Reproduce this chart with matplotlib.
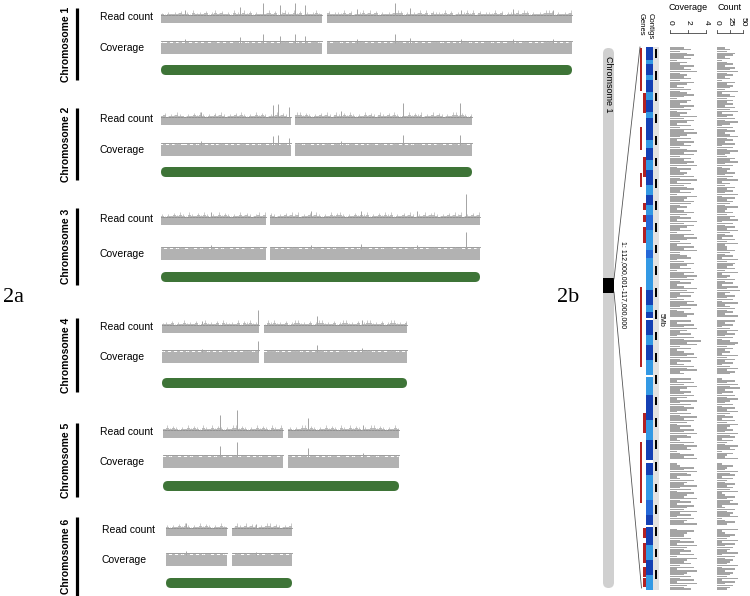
import numpy as np
import matplotlib.pyplot as plt
from matplotlib.patches import FancyBboxPatch, Rectangle

plt.rcParams['font.family'] = ['Liberation Sans', 'DejaVu Sans']

# ---------------- panel 2a data ----------------
chrom_names = ['Chromosome 1', 'Chromosome 2', 'Chromosome 3',
               'Chromosome 4', 'Chromosome 5', 'Chromosome 6']
chrom_len_mb = [205.5, 155.5, 159.5, 122.5, 118.0, 63.0]
centromere_mb = [(80.5, 83.0), (65.0, 67.0), (52.5, 54.5),
                 (48.5, 51.0), (60.0, 62.5), (30.5, 33.0)]

# binned read-count noise above the mean level (one digit per bin)
texture_chr = [
    "3152436241735261473625184273615243726158427361524837162543"
    "7261548372615243876152437281654372615248371625437261543827"
    "615243786152437",
    "2615374215263741526384152637415283641527364152873641526374"
    "185263741528364175263841527364815273641528736415",
    "4152637418526374152836415273641582736415263748152637415283"
    "674152637481526374815263741528367415263748152637",
    "3526142735261483526174352816473526184735261478352614873526"
    "147835261487352614783526",
    "2736415273641852736415287364152736418527364152873641527364"
    "185273641528736415273",
    "415263741528364152736418527364152873641527",
]

# prominent peaks: (position Mb, read count relative to mean)
spikes_chr = [
    [(12, 1.6), (39.5, 2.0), (51, 2.5), (59.5, 2.2), (67, 2.5), (72, 2.2),
     (98, 1.7), (117, 2.5), (124.5, 1.9), (150, 1.6), (176, 1.7), (196, 1.6)],
    [(20, 1.6), (56, 2.5), (58.5, 2.6), (64, 2.2), (90, 1.7), (121, 2.7), (149.5, 2.7)],
    [(25, 1.6), (75, 1.7), (100, 1.8), (128, 1.7), (152.5, 3.9)],
    [(20, 1.5), (48.2, 2.9), (77.5, 2.1), (100, 1.6)],
    [(28.5, 2.9), (37, 3.5), (72.5, 2.5), (100, 1.6)],
    [(10, 1.6), (45, 1.5)],
]

# ---------------- panel 2b data (kb from 112,000,001) ----------------
region_kb = 5000
gene_segments = [  # (start kb, end kb, lane)
    (9, 405, 0), (424, 608, 1), (562, 599, 2), (737, 949, 0), (1013, 1197, 1),
    (1160, 1289, 0), (1437, 1501, 1), (1547, 1612, 1), (1658, 1805, 1),
    (2210, 2947, 0), (3371, 3555, 1), (3638, 4200, 0), (4430, 4522, 1),
    (4568, 4752, 1), (4789, 4881, 1), (4890, 4973, 1),
]
contig_blocks = [  # (start kb, end kb, class) D=dark, M=mid, L=light
    (0, 120, 'D'), (120, 157, 'L'), (157, 258, 'D'), (258, 304, 'L'),
    (304, 414, 'D'), (414, 488, 'L'), (488, 599, 'D'), (599, 654, 'L'),
    (654, 857, 'D'), (857, 930, 'L'), (930, 1041, 'D'), (1041, 1133, 'L'),
    (1133, 1271, 'D'), (1271, 1363, 'L'), (1363, 1455, 'D'), (1455, 1547, 'L'),
    (1547, 1685, 'M'), (1685, 1870, 'L'), (1870, 1943, 'M'), (1943, 2238, 'L'),
    (2238, 2376, 'D'), (2376, 2441, 'L'), (2441, 2496, 'D'),
    (2514, 2652, 'D'), (2652, 2745, 'L'), (2745, 2883, 'D'), (2883, 3021, 'L'),
    (3039, 3205, 'L'), (3205, 3435, 'D'), (3435, 3619, 'L'), (3619, 3804, 'D'),
    (3831, 3942, 'D'), (3942, 4172, 'L'), (4172, 4310, 'M'), (4310, 4402, 'D'),
    (4421, 4587, 'D'), (4587, 4725, 'L'), (4725, 4863, 'D'), (4863, 5000, 'L'),
]
contig_gaps = [(2496, 2514), (3021, 3039), (3804, 3831), (4402, 4421)]

coverage_digits = ("463574625374683546375246357426"
                   "537462538475263748536274635847"
                   "364758263547382645736285476352"
                   "475362847536274853627483356247"
                   "536274857362485736247583624753"
                   "362748536274958362475836247583"
                   "453627485364752836475263847526"
                   "374856237485623748562374856237"
                   "548362754836275483627548362754"
                   "463728546372854637285463728546")
count_digits = ("354763524637584635274653825746"
                "463758264738526473584637264853"
                "475836254736482537463827465384"
                "364758263748536274834475362847"
                "647382547362849537462835746383"
                "473625847362587463528473625847"
                "536274859362748536274853627485"
                "463857264385726438572643857264"
                "374658237465823746582374658237"
                "548273654827365482736548273654")
coverage_per_digit = 0.38
count_per_digit = 5.0
coverage_ticks = [0, 2, 4]
count_ticks = [0, 25, 50]

# ---------------- layout ----------------
PX_PER_MB = 2.0
track_x0 = [161, 161, 161, 162, 163, 166]
row_read_y = [17, 119, 219, 327, 432, 530]
row_cov_y = [48, 150, 254, 357, 462, 560]
row_ideo_y = [70, 172, 277, 383, 486, 583]
label_bar = [(8, 80), (108, 180), (208, 285), (318, 392), (423, 497), (517, 596)]

GRAY = '#b2b2b2'
DARK = '#8c8c8c'
GREEN = '#3e7437'
contig_colors = {'D': '#1440b4', 'M': '#2468d8', 'L': '#3399e4'}

fig = plt.figure(figsize=(7.5, 5.96), dpi=100)
ax = fig.add_axes([0, 0, 1, 1])
ax.set_xlim(0, 750)
ax.set_ylim(596, 0)
ax.axis('off')


def draw_track(x0, length, gap, top, bottom, texture, band_px, tex_px,
               spikes, spike_px, line_off):
    pos = np.linspace(0.5, length - 0.5, len(texture))
    vals = np.array([int(c) for c in texture])
    for a, b in [(0, gap[0]), (gap[1], length)]:
        ax.add_patch(Rectangle((x0 + a * PX_PER_MB, top), (b - a) * PX_PER_MB,
                               bottom - top, color=GRAY, lw=0))
        m = (pos >= a) & (pos <= b)
        px = np.concatenate([[a], pos[m], [b]])
        pv = np.concatenate([[vals[m][0]], vals[m], [vals[m][-1]]])
        ax.fill_between(x0 + px * PX_PER_MB, top, top - pv * band_px,
                        step='mid', color='#bdbdbd', lw=0)
        ax.plot([x0 + a * PX_PER_MB, x0 + b * PX_PER_MB], [top - line_off] * 2,
                color=DARK, lw=0.6)
    keep = (pos < gap[0]) | (pos > gap[1])
    ax.vlines(x0 + pos[keep] * PX_PER_MB, top, top - vals[keep] * tex_px,
              color='#b4b4b4', lw=0.5)
    for p, v in spikes:
        ax.vlines(x0 + p * PX_PER_MB, top, top - (v - 1) * spike_px,
                  color='#a4a4a4', lw=0.7)


for i, name in enumerate(chrom_names):
    x0 = track_x0[i]
    L = chrom_len_mb[i]
    gap = centromere_mb[i]
    ry, cy, gy = row_read_y[i], row_cov_y[i], row_ideo_y[i]
    lx = 102 if i == 5 else 100
    ax.text(lx, ry, 'Read count', fontsize=7.5, va='center', ha='left')
    ax.text(lx, cy, 'Coverage', fontsize=7.5, va='center', ha='left')
    draw_track(x0, L, gap, ry - 2, ry + 6, texture_chr[i], 0.3, 0.65,
               spikes_chr[i], 8, 0)
    draw_track(x0, L, gap, cy - 5, cy + 6, texture_chr[i], 0.15, 0.25,
               spikes_chr[i], 6, 2.2)
    ax.add_patch(FancyBboxPatch((x0, gy - 5), L * PX_PER_MB, 10,
                                boxstyle='round,pad=0,rounding_size=5',
                                color=GREEN, lw=0))
    b0, b1 = label_bar[i]
    ax.plot([77, 77], [b0, b1], color='black', lw=2.3, solid_capstyle='butt')
    ax.text(66, (b0 + b1) / 2, name, rotation=90, fontsize=7.5,
            fontweight='bold', ha='center', va='center')

ax.text(3, 297, '2a', fontsize=16, family='Liberation Serif', va='center', ha='left')
ax.text(557, 297, '2b', fontsize=16, family='Liberation Serif', va='center', ha='left')

# ---------------- panel 2b ----------------
Y0, Y1 = 47, 590


def ky(kb):
    return Y0 + kb / region_kb * (Y1 - Y0)


# ideogram of chromosome 1
ax.add_patch(FancyBboxPatch((603, 48), 11, 540, boxstyle='round,pad=0,rounding_size=5.5',
                            color='#d0d0d0', lw=0))
ax.add_patch(Rectangle((603, 278), 11, 15, color='black', lw=0))
ax.text(608.5, 56, 'Chromsome 1', rotation=-90, fontsize=6.5, ha='center', va='top')
ax.text(623, 285, '1: 112,000,001-117,000,000', rotation=-90, fontsize=5,
        ha='center', va='center')
ax.plot([614, 640], [279, Y0], color='#555555', lw=0.6)
ax.plot([614, 641.5], [292, 588], color='#555555', lw=0.6)

# genes
lane_x = [639.8, 643.2, 645.6]
for s, e, lane in gene_segments:
    ax.add_patch(Rectangle((lane_x[lane], ky(s)), 2.3, ky(e) - ky(s),
                           color='#b32222', lw=0))

# contigs
for s, e, c in contig_blocks:
    ax.add_patch(Rectangle((646, ky(s)), 6.5, ky(e) - ky(s),
                           color=contig_colors[c], lw=0))

# scale column
ax.add_patch(Rectangle((652.5, Y0), 6, Y1 - Y0, color='#e2e2e2', lw=0))
for k in range(0, region_kb, 200):
    ax.add_patch(Rectangle((654.5, ky(k + 20)), 2, ky(k + 100) - ky(k + 20),
                           color='black', lw=0))
ax.text(661, 320, '5Mb', rotation=-90, fontsize=5, ha='center', va='center')

ax.text(641, 13, 'Genes', rotation=-90, fontsize=5.5, ha='center', va='top')
ax.text(650.5, 13, 'Contigs', rotation=-90, fontsize=5.5, ha='center', va='top')

# histograms
nb = len(coverage_digits)
edges = np.linspace(0, region_kb, nb + 1)
centers = (edges[:-1] + edges[1:]) / 2
in_gap = np.zeros(nb, dtype=bool)
for gs, ge in contig_gaps:
    in_gap |= (edges[1:] > gs) & (edges[:-1] < ge)
cov = np.array([int(c) for c in coverage_digits]) * coverage_per_digit
cnt = np.array([int(c) for c in count_digits]) * count_per_digit
cov[in_gap] = 0
cnt[in_gap] = 0
bin_px = (Y1 - Y0) / nb

COV_X0, COV_PX = 670, 9.0
CNT_X0, CNT_PX = 717, 26.0 / 50
ax.barh(ky(centers), cov * COV_PX, height=bin_px * 0.8, left=COV_X0,
        color='#a4a4a4', lw=0)
ax.barh(ky(centers), cnt * CNT_PX, height=bin_px * 0.8, left=CNT_X0,
        color='#a4a4a4', lw=0)

for x0, px, ticks, title in [(COV_X0, COV_PX, coverage_ticks, 'Coverage'),
                             (CNT_X0, CNT_PX, count_ticks, 'Count')]:
    xs = [x0 + t * px for t in ticks]
    ax.plot([xs[0], xs[-1]], [33, 33], color='#444444', lw=0.6)
    for t, x in zip(ticks, xs):
        ax.plot([x, x], [33, 29.5], color='#444444', lw=0.6)
        ax.text(x, 22, str(t), rotation=-90, fontsize=6, ha='center', va='center')
    ax.text((xs[0] + xs[-1]) / 2, 7.5, title, fontsize=6.5, ha='center', va='center')

fig.savefig('out.png', dpi=100)
